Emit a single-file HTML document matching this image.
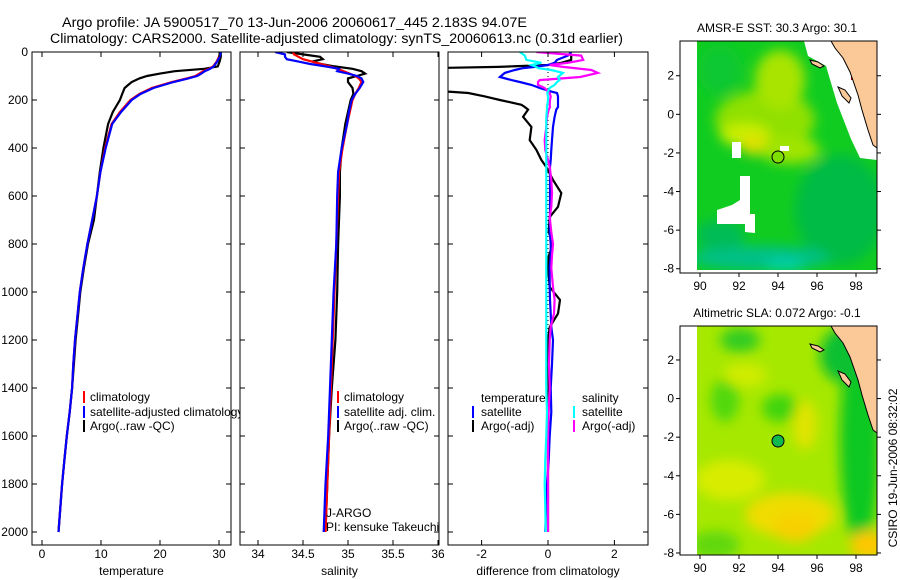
<!DOCTYPE html>
<html><head><meta charset="utf-8"><style>
html,body{margin:0;padding:0;background:#fff;}
svg{display:block;font-family:"Liberation Sans",sans-serif;}
</style></head><body>
<svg id="fig" width="900" height="580" viewBox="0 0 900 580" xmlns="http://www.w3.org/2000/svg">
<defs>
<clipPath id="c1"><rect x="32" y="52" width="199" height="493"/></clipPath>
<clipPath id="c2"><rect x="240" y="52" width="199" height="493"/></clipPath>
<clipPath id="c3"><rect x="448" y="52" width="200" height="493"/></clipPath>
<clipPath id="cleg"><rect x="0" y="0" width="240" height="580"/></clipPath>
<clipPath id="cm1"><rect x="697" y="41" width="180" height="229"/></clipPath>
<clipPath id="cm2"><rect x="697" y="326" width="180" height="229"/></clipPath>
<filter id="blur6" x="-50%" y="-50%" width="200%" height="200%"><feGaussianBlur stdDeviation="6"/></filter>
</defs>
<text x="62" y="27" font-size="14.2" textLength="465" lengthAdjust="spacingAndGlyphs">Argo profile: JA 5900517_70 13-Jun-2006 20060617_445 2.183S 94.07E</text>
<text x="50" y="43" font-size="14.2" textLength="573" lengthAdjust="spacingAndGlyphs">Climatology: CARS2000. Satellite-adjusted climatology: synTS_20060613.nc (0.31d earlier)</text>

<g id="p1"></g>
<g id="p2"></g>
<g id="p3"></g>

<g clip-path="url(#cleg)" font-size="12">
<rect x="83" y="391" width="2" height="12" fill="#f00"/><text x="90" y="401">climatology</text>
<rect x="83" y="406" width="2" height="12" fill="#00f"/><text x="90" y="416">satellite-adjusted climatology</text>
<rect x="83" y="420" width="2" height="12" fill="#000"/><text x="90" y="430">Argo(..raw -QC)</text>
</g>
<g font-size="12">
<rect x="337" y="391" width="2" height="12" fill="#f00"/><text x="344" y="401">climatology</text>
<rect x="337" y="406" width="2" height="12" fill="#00f"/><text x="344" y="416">satellite adj. clim.</text>
<rect x="337" y="420" width="2" height="12" fill="#000"/><text x="344" y="430">Argo(..raw -QC)</text>
<text x="326" y="517">J-ARGO</text>
<text x="326" y="531">PI: kensuke Takeuchi</text>
</g>
<g font-size="12">
<text x="481" y="402">temperature</text>
<rect x="472" y="406" width="2" height="12" fill="#00f"/><text x="481" y="416">satellite</text>
<rect x="472" y="420" width="2" height="12" fill="#000"/><text x="481" y="430">Argo(-adj)</text>
<text x="582" y="402">salinity</text>
<rect x="573" y="406" width="2" height="12" fill="#0ff"/><text x="582" y="416">satellite</text>
<rect x="573" y="420" width="2" height="12" fill="#f0f"/><text x="582" y="430">Argo(-adj)</text>
</g>

<g>
<text x="777" y="32" font-size="12" text-anchor="middle">AMSR-E SST: 30.3 Argo: 30.1</text>
<g clip-path="url(#cm1)">
<rect x="697" y="41" width="180" height="229" fill="#10cc20"/>
<g filter="url(#blur6)">
<ellipse cx="765" cy="120" rx="50" ry="30" fill="#90e000"/>
<ellipse cx="780" cy="80" rx="25" ry="30" fill="#a8e400"/>
<ellipse cx="745" cy="135" rx="25" ry="12" fill="#c8ee00"/>
<ellipse cx="755" cy="145" rx="15" ry="10" fill="#e0e000"/>
<ellipse cx="790" cy="150" rx="30" ry="14" fill="#a0e400"/>
<ellipse cx="720" cy="70" rx="22" ry="25" fill="#10c830"/>
<ellipse cx="840" cy="210" rx="45" ry="55" fill="#00bb44"/>
<ellipse cx="760" cy="258" rx="70" ry="12" fill="#00c088"/>
<ellipse cx="785" cy="265" rx="20" ry="6" fill="#00d0b0"/>
<ellipse cx="720" cy="235" rx="25" ry="15" fill="#00bb55"/>
</g>
<polygon points="804,41 808,56 826,66 837,103 851,139 860,158 877,160 877,41" fill="#fff"/>
<rect x="851" y="66" width="14" height="14" fill="#a00000"/>
<polygon points="831,41 877,41 877,148 873,145 868,130 862,110 858,95 850,72 843,58 835,48" fill="#fbc898"/>
<polyline points="831,41 835,48 843,58 850,72 858,95 862,110 868,130 873,145 877,148" fill="none" stroke="#000" stroke-width="1"/>
<polygon points="810,60 818,62 824,66 820,68 812,64" fill="#fbc898" stroke="#000" stroke-width="1"/>
<polygon points="838,87 845,90 851,98 849,103 842,96" fill="#fbc898" stroke="#000" stroke-width="1"/>
<polygon points="717,210 732,205 740,200 740,176 750,176 750,214 755,214 755,233 745,232 745,224 717,224" fill="#fff"/>
<rect x="732" y="142" width="9" height="16" fill="#fff"/>
<rect x="780" y="146" width="9" height="5" fill="#fff"/>
<circle cx="778" cy="157" r="6" fill="#7ede00" stroke="#000" stroke-width="1"/>
</g>
<rect x="680" y="41" width="197" height="232" fill="none" stroke="#000"/>
<g id="m1ticks" font-size="12"></g>
</g>

<g>
<text x="777" y="317" font-size="12" text-anchor="middle">Altimetric SLA: 0.072 Argo: -0.1</text>
<g clip-path="url(#cm2)">
<rect x="697" y="326" width="180" height="229" fill="#a6e800"/>
<g filter="url(#blur6)">
<ellipse cx="740" cy="340" rx="20" ry="12" fill="#30cc20"/>
<ellipse cx="725" cy="400" rx="14" ry="22" fill="#50d810"/>
<ellipse cx="780" cy="408" rx="18" ry="14" fill="#40d410"/>
<ellipse cx="745" cy="375" rx="22" ry="12" fill="#d0ec00"/>
<ellipse cx="805" cy="425" rx="12" ry="25" fill="#e0e400"/>
<ellipse cx="860" cy="440" rx="20" ry="110" fill="#10c820"/>
<ellipse cx="845" cy="355" rx="25" ry="28" fill="#10c030"/>
<ellipse cx="790" cy="515" rx="45" ry="22" fill="#f0dc00"/>
<ellipse cx="795" cy="528" rx="22" ry="14" fill="#f8d000"/>
<ellipse cx="868" cy="545" rx="18" ry="14" fill="#ffc800"/>
<ellipse cx="730" cy="480" rx="35" ry="20" fill="#d8ec00"/>
<ellipse cx="715" cy="545" rx="25" ry="14" fill="#60d810"/>
</g>
<polygon points="831,326 877,326 877,433 873,430 868,415 862,395 858,380 850,357 843,343 835,333" fill="#fbc898"/>
<polyline points="831,326 835,333 843,343 850,357 858,380 862,395 868,415 873,430 877,433" fill="none" stroke="#000" stroke-width="1"/>
<polygon points="810,344 818,346 824,350 820,352 812,348" fill="#fbc898" stroke="#000" stroke-width="1"/>
<polygon points="838,371 845,374 851,382 849,387 842,380" fill="#fbc898" stroke="#000" stroke-width="1"/>
<circle cx="778" cy="441" r="6" fill="#10b850" stroke="#000" stroke-width="1"/>
</g>
<rect x="680" y="326" width="197" height="229" fill="none" stroke="#000"/>
<g id="m2ticks" font-size="12"></g>
</g>
<text transform="translate(897,468) rotate(-90)" font-size="12" text-anchor="middle">CSIRO 19-Jun-2006 08:32:02</text>
</svg>
<script>
const tempDepth = [0,20,40,60,70,80,90,100,110,125,150,175,200,250,300,400,500,600,700,800,900,1000,1100,1200,1300,1400,1500,1600,1700,1800,1900,2000];
const tempClim = [30.2,30.0,29.6,29.0,28.3,27.3,26.7,26.0,24.5,22,18.6,16.5,15,13.2,11.8,10.7,9.9,9.3,8.5,7.7,7.0,6.4,6.0,5.6,5.3,5.1,4.7,4.2,3.8,3.4,3.1,2.8];
const tempSat = [30.3,30.1,29.7,29.1,28.5,27.6,27.0,26.3,24.8,22.3,18.9,16.7,15.2,13.4,11.9,10.8,9.9,9.3,8.5,7.7,7.0,6.4,6.0,5.6,5.3,5.1,4.7,4.2,3.8,3.4,3.1,2.8];
const tempArgo = [30.3,30.3,30.1,29.8,27.5,22.5,20,17.8,16.5,15.2,14,13.6,13.2,12,11.2,10.4,9.8,9.3,8.8,7.8,7.1,6.5,6.1,5.7,5.4,5.1,4.7,4.2,3.8,3.4,3.1,2.8];

const salDepth = [0,10,20,30,40,50,60,70,80,90,100,110,125,150,175,200,250,300,400,500,600,800,1000,1200,1400,1600,1800,2000];
const salClim = [34.39,34.4,34.45,34.5,34.6,34.7,34.8,34.88,34.95,35.02,35.08,35.12,35.15,35.12,35.08,35.05,35.02,34.99,34.94,34.9,34.89,34.87,34.85,34.83,34.81,34.79,34.77,34.75];
const salSat = [34.19,34.3,34.3,34.32,34.45,34.58,34.75,34.9,34.88,35.0,35.1,35.15,35.17,35.13,35.08,35.04,35.01,34.99,34.93,34.89,34.88,34.87,34.84,34.82,34.8,34.78,34.75,34.73];
const salArgo = [34.32,34.5,34.69,34.72,34.6,34.7,34.85,35.05,35.15,35.19,35.1,35.0,35.0,35.05,35.06,35.03,35.0,34.97,34.93,34.91,34.91,34.89,34.88,34.86,34.82,34.79,34.77,34.75];

const diffDepth = [0,15,33,45,54,62,67,75,87,104,117,125,137,150,165,171,185,200,220,229,240,270,312,367,408,450,479,533,588,645,688,750,800,850,900,979,1033,1090,1146,1200,1300,1400,1500,1600,1700,1800,1900,2000];
const diffTempArgo = [0.66,0.7,0.7,0.4,0,-1.5,-3.5,-6,-7,-8,-7,-6,-5,-4,-3,-2.4,-1.9,-1.45,-0.8,-0.7,-0.6,-0.75,-0.5,-0.55,-0.35,-0.2,-0.05,0.15,0.4,0.3,0.05,0.02,0.15,0.02,0,0.05,0.36,0.3,0.05,0,0,0.02,0,0,0,0,0,0];
const diffTempSat = [0.7,0.6,0.27,0.2,0,-0.4,-0.75,-1.0,-1.3,-1.45,-1.1,-0.85,-0.5,-0.25,0.1,0.27,0.3,0.3,0.3,0.3,0.25,0.2,0.15,0.12,0.1,0.08,0.06,0.06,0.06,0.06,0.06,0.05,0.08,0.08,0.05,0.05,0.06,0.08,0.1,0.15,0.12,0.08,0.1,0.05,0.02,-0.03,-0.06,-0.08];
const diffSalArgo = [-0.35,1.0,1.06,0.6,0.05,0.45,0.8,1.3,1.5,0.97,-0.25,-0.3,-0.3,-0.1,0,0.05,0.08,0.06,0.05,0.06,0.02,-0.03,-0.05,-0.1,-0.08,0,0.05,0.1,0.12,0.1,0.05,0.1,0.15,0.12,0.1,0.15,0.2,0.18,0.08,0.05,0.03,0.05,0.02,0,0,0,0,0];
const diffSalSat = [-0.85,-0.7,-0.65,-0.2,-0.5,-0.35,-0.3,0.1,0.45,0.3,0.35,0.27,0.2,0.05,0,-0.02,0,0,-0.02,-0.03,-0.03,-0.05,-0.05,-0.05,-0.05,-0.05,-0.05,-0.05,-0.05,-0.05,-0.05,-0.05,-0.05,-0.05,-0.05,-0.05,-0.05,-0.05,-0.05,-0.05,-0.05,-0.05,-0.03,-0.05,-0.08,-0.1,-0.08,-0.07];

const depthTicks = [0,200,400,600,800,1000,1200,1400,1600,1800,2000];
const tempTicks = [0,10,20,30];
const salTicks = [34,34.5,35,35.5,36];
const diffTicks = [-2,0,2];
const lonTicks = [90,92,94,96,98];
const latTicks = [2,0,-2,-4,-6,-8];

const NS = 'http://www.w3.org/2000/svg';
const TOP = 52, BOT = 545;
function yDepth(d){ return TOP + d*0.24; }
function xTemp(t){ return 42 + t*5.9; }
function xSal(s){ return 258 + (s-34)*90; }
function xDiff(v){ return 548 + v*33.2; }
function mk(tag, attrs, parent){
  const e = document.createElementNS(NS, tag);
  for (const k in attrs) e.setAttribute(k, attrs[k]);
  parent.appendChild(e); return e;
}
function line(parent, depths, vals, xf, color, clip, name){
  const pts = depths.map((d,i)=> xf(vals[i]).toFixed(1)+','+yDepth(d).toFixed(1)).join(' ');
  const el = mk('polyline', {points:pts, fill:'none', stroke:color, 'stroke-width':2.2, 'clip-path':'url(#'+clip+')'}, parent);
  
  
}
function panel(g, x0, x1, xticks, xf, fmt, title, showY){
  const fr = mk('rect', {x:x0, y:TOP, width:x1-x0, height:BOT-TOP, fill:'none', stroke:'#000', 'stroke-width':1}, g);
  
  
  depthTicks.forEach(d=>{
    const y = yDepth(d);
    mk('line', {x1:x0, x2:x0+5, y1:y, y2:y, stroke:'#000'}, g);
    mk('line', {x1:x1-5, x2:x1, y1:y, y2:y, stroke:'#000'}, g);
    if (showY){
      const t = mk('text', {x:x0-4, y:y+4, 'font-size':12, 'text-anchor':'end'}, g);
      t.textContent = d;
      
      
    }
  });
  xticks.forEach(v=>{
    const x = xf(v);
    mk('line', {x1:x, x2:x, y1:BOT, y2:BOT-5, stroke:'#000'}, g);
    mk('line', {x1:x, x2:x, y1:TOP, y2:TOP+5, stroke:'#000'}, g);
    const t = mk('text', {x:x, y:BOT+13, 'font-size':12, 'text-anchor':'middle'}, g);
    t.textContent = fmt(v);
    
    
  });
  const tt = mk('text', {x:(x0+x1)/2, y:575, 'font-size':12, 'text-anchor':'middle'}, g);
  tt.textContent = title;
  
  
}
const p1 = document.getElementById('p1');
const p2 = document.getElementById('p2');
const p3 = document.getElementById('p3');
line(p1, tempDepth, tempArgo, xTemp, '#000', 'c1', 'temp-argo-line');
line(p1, tempDepth, tempClim, xTemp, '#f00', 'c1', 'temp-climatology-line');
line(p1, tempDepth, tempSat, xTemp, '#00f', 'c1', 'temp-satellite-line');
panel(p1, 32, 231, tempTicks, xTemp, v=>String(v), 'temperature', true);

line(p2, salDepth, salArgo, xSal, '#000', 'c2', 'sal-argo-line');
line(p2, salDepth, salClim, xSal, '#f00', 'c2', 'sal-climatology-line');
line(p2, salDepth, salSat, xSal, '#00f', 'c2', 'sal-satellite-line');
panel(p2, 240, 439, salTicks, xSal, v=>String(v), 'salinity', false);

const zl = mk('line', {x1:xDiff(0), x2:xDiff(0), y1:yDepth(0), y2:yDepth(2000), stroke:'#000', 'stroke-dasharray':'1,3'}, p3);


line(p3, diffDepth, diffTempArgo, xDiff, '#000', 'c3', 'diff-temp-argo-line');
line(p3, diffDepth, diffTempSat, xDiff, '#00f', 'c3', 'diff-temp-satellite-line');
line(p3, diffDepth, diffSalArgo, xDiff, '#f0f', 'c3', 'diff-sal-argo-line');
line(p3, diffDepth, diffSalSat, xDiff, '#0ff', 'c3', 'diff-sal-satellite-line');
panel(p3, 448, 648, diffTicks, xDiff, v=>String(v), 'difference from climatology', false);

function mapTicks(gid, top, bottom, latTop){
  const g = document.getElementById(gid);
  const lx = lon => 700 + (lon-90)*19.5;
  const ly = lat => top + (latTop-lat)*19.3;
  lonTicks.forEach(l=>{
    const x = lx(l);
    mk('line', {x1:x, x2:x, y1:bottom, y2:bottom+4, stroke:'#000'}, g);
    const t = mk('text', {x:x, y:bottom+17, 'text-anchor':'middle'}, g);
    t.textContent = l;
    
    
  });
  latTicks.forEach(l=>{
    const y = ly(l);
    mk('line', {x1:676, x2:680, y1:y, y2:y, stroke:'#000'}, g);
    mk('line', {x1:877, x2:881, y1:y, y2:y, stroke:'#000'}, g);
    const t = mk('text', {x:674, y:y+4, 'text-anchor':'end'}, g);
    t.textContent = l;
    
    
  });
}
mapTicks('m1ticks', 41, 273, 3.8);
mapTicks('m2ticks', 326, 555, 3.76);
</script>
</body></html>
